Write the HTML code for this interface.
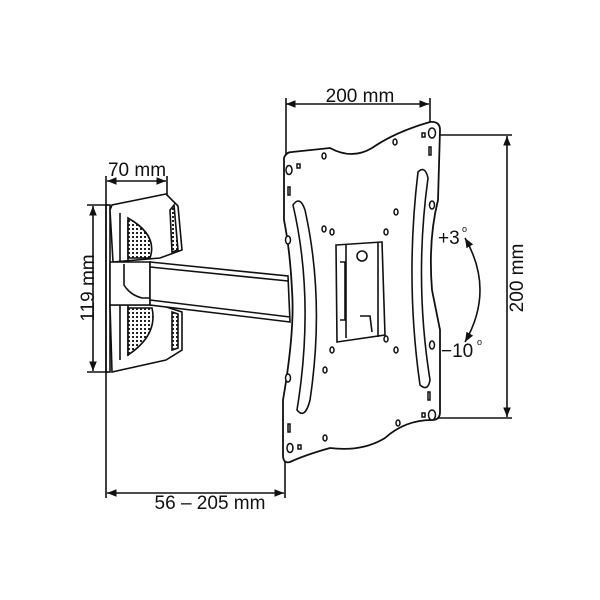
<!DOCTYPE html>
<html><head><meta charset="utf-8"><style>
html,body{margin:0;padding:0;background:#fff;}
svg{display:block}
text{font-family:"Liberation Sans",sans-serif;fill:#111}
</style></head><body>
<svg width="600" height="600" viewBox="0 0 600 600" xmlns="http://www.w3.org/2000/svg">
<defs>
<marker id="a" viewBox="0 0 10 10" refX="10" refY="5" markerWidth="6" markerHeight="6" orient="auto-start-reverse"><path d="M0,1 L10,5 L0,9 z" fill="#111"/></marker>
<pattern id="g" width="4" height="4" patternUnits="userSpaceOnUse"><rect width="4" height="4" fill="#fff"/><rect width="2" height="2" fill="#222"/></pattern>
</defs>
<g stroke="#111" fill="none" stroke-width="1.6">
<line x1="286" y1="104" x2="429" y2="104" marker-start="url(#a)" marker-end="url(#a)"/>
<line x1="286" y1="98" x2="286" y2="160"/>
<line x1="430" y1="98" x2="430" y2="126"/>
<line x1="507" y1="136" x2="507" y2="417" marker-start="url(#a)" marker-end="url(#a)"/>
<line x1="436" y1="135" x2="512" y2="135"/>
<line x1="436" y1="418" x2="512" y2="418"/>
<line x1="107" y1="181" x2="166" y2="181" marker-start="url(#a)" marker-end="url(#a)"/>
<line x1="106" y1="176" x2="106" y2="498"/>
<line x1="167" y1="176" x2="167" y2="196"/>
<line x1="93" y1="206" x2="93" y2="371" marker-start="url(#a)" marker-end="url(#a)"/>
<line x1="87" y1="205" x2="108" y2="205"/>
<line x1="87" y1="372" x2="108" y2="372"/>
<line x1="107" y1="493" x2="284" y2="493" marker-start="url(#a)" marker-end="url(#a)"/>
<line x1="285" y1="455" x2="285" y2="498"/>
<path d="M465,238 Q495,290 465,342" marker-start="url(#a)" marker-end="url(#a)"/>

<rect x="106" y="205" width="4" height="167"/>
<path d="M110,210 L112,205 L166,194 L178,206 L182,250 L160,258 L113,262 Z" fill="#fff"/>
<path d="M120,213 L120,262 M128,220 L128,262"/>
<path d="M128,218 Q158,235 150,258 L128,258 Z" fill="url(#g)"/>
<path d="M174,205 L178,250 L172,252 L170,210 Z" fill="url(#g)"/>
<path d="M110,305 L160,305 L182,312 L182,350 L166,360 L112,372 Z" fill="#fff"/>
<path d="M120,305 L120,360 M128,305 L128,356"/>
<path d="M128,308 L152,308 Q158,335 128,355 Z" fill="url(#g)"/>
<path d="M172,312 L178,314 L178,348 L172,350 Z" fill="url(#g)"/>
<path d="M110,262 L150,262 L150,305 L110,305 Z" fill="#fff"/>
<path d="M124,264 L124,285 Q130,295 142,298 L150,298"/>
<path d="M150,262 L288,276 L290,322 L150,305 Z" fill="#fff"/>
<path d="M150,267 L288,281"/>
<path d="M150,300 L290,317"/>

<path d="M284,158 Q286,152 292,152 L330,148 Q352,160 372,148 Q395,132 430,122 Q440,121 440,130 L438,200 Q428,240 432,290 L440,330 L440,412 Q440,420 432,420 Q405,420 385,438 Q362,452 330,448 Q305,455 290,462 Q283,464 283,455 L283,400 Q295,330 292,290 Q290,250 284,220 Z" fill="#fff" stroke-width="1.8"/>
<path d="M293,205 Q300,195 305,210 Q325,300 310,400 Q305,420 297,410 Q315,300 293,205 Z" stroke-width="1.6"/>
<path d="M418,172 Q425,165 428,178 Q414,280 430,380 Q428,392 420,385 Q405,280 418,172 Z" stroke-width="1.6"/>
<path d="M336,245 L382,242 L385,335 L337,342 Z" fill="#fff"/>
<path d="M346,245 L346,338 M378,243 L378,337"/>
<circle cx="362" cy="256" r="5"/>
<path d="M340,262 L345,262 L345,320 L340,320"/>
<path d="M360,316 L370,316 L372,332"/>
</g>
<g fill="#fff" stroke="#111" stroke-width="1.5">
<ellipse cx="289" cy="170" rx="3" ry="4.5"/><ellipse cx="432" cy="133" rx="3.5" ry="5"/>
<ellipse cx="432" cy="415" rx="3.5" ry="5"/><ellipse cx="290" cy="448" rx="3" ry="4.5"/>
<ellipse cx="324" cy="156" rx="2" ry="3"/><ellipse cx="395" cy="142" rx="2" ry="3"/>
<ellipse cx="288" cy="240" rx="2.5" ry="4"/><ellipse cx="432" cy="205" rx="2.5" ry="4"/>
<ellipse cx="288" cy="378" rx="2.5" ry="4"/><ellipse cx="432" cy="345" rx="2.5" ry="4"/>
<ellipse cx="324" cy="229" rx="2" ry="3"/><ellipse cx="396" cy="212" rx="2" ry="3"/>
<ellipse cx="332" cy="232" rx="2" ry="3"/><ellipse cx="386" cy="232" rx="2" ry="3"/>
<ellipse cx="332" cy="350" rx="2" ry="3"/><ellipse cx="386" cy="339" rx="2" ry="3"/>
<ellipse cx="325" cy="370" rx="2" ry="3"/><ellipse cx="396" cy="350" rx="2" ry="3"/>
<ellipse cx="325" cy="438" rx="2" ry="3"/><ellipse cx="398" cy="423" rx="2" ry="3"/>
<rect x="297" y="164" width="3" height="4"/><rect x="422" y="133" width="3" height="4"/>
<rect x="429" y="147" width="2" height="8"/><rect x="288" y="187" width="2" height="8"/>
<rect x="428" y="392" width="2" height="8"/><rect x="288" y="424" width="2" height="8"/>
<rect x="422" y="413" width="3" height="4"/><rect x="298" y="445" width="3" height="4"/>
</g>
<text x="360" y="102" font-size="19" text-anchor="middle">200 mm</text>
<text x="137" y="176" font-size="19" text-anchor="middle">70 mm</text>
<text x="210" y="509" font-size="19" text-anchor="middle">56 – 205 mm</text>
<text transform="translate(523,278) rotate(-90)" font-size="19" text-anchor="middle">200 mm</text>
<text transform="translate(94,288) rotate(-90)" font-size="19" text-anchor="middle">119 mm</text>
<text x="438" y="244" font-size="19">+3</text>
<text x="462" y="232" font-size="9">o</text>
<text x="441" y="357" font-size="19">−10</text>
<text x="477" y="345" font-size="9">o</text>
</svg>
</body></html>
